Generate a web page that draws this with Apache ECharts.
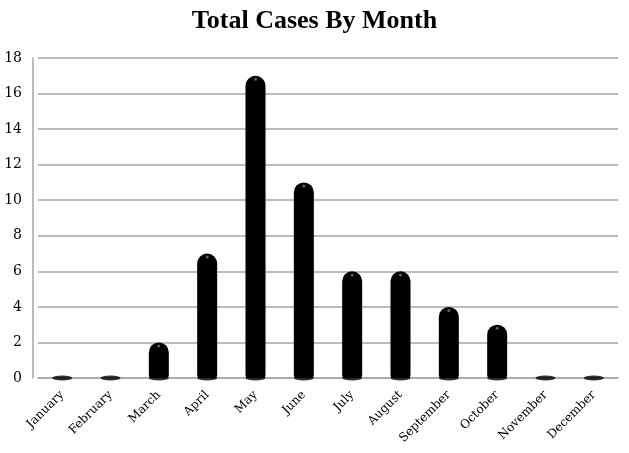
<!DOCTYPE html>
<html>
<head>
<meta charset="utf-8">
<script src="https://cdn.jsdelivr.net/npm/echarts@6/dist/echarts.min.js"></script>
<style>
  html, body { margin: 0; padding: 0; background: #fff; }
  #chart-container { width: 629px; height: 453px; }
</style>
</head>
<body>
<div id="chart-container"></div>
<script>
var dom = document.getElementById("chart-container");
var myChart = echarts.init(dom, null, { renderer: "canvas" });

// data
var months = ["January", "February", "March", "April", "May", "June",
  "July", "August", "September", "October", "November", "December"];
var cases = [0, 0, 2, 7, 17, 11, 6, 6, 4, 3, 0, 0];
var baseLine = [0, 0, 0, 0, 0, 0, 0, 0, 0, 0, 0, 0];

var serif = "'DejaVu Serif', 'Liberation Serif', serif";

var option = {
  backgroundColor: "#fff",
  title: {
    text: "Total Cases By Month",
    left: "center",
    top: 3,
    textStyle: { fontFamily: "'Liberation Serif', serif", fontWeight: "bold", fontSize: 26, color: "#000" }
  },
  grid: { left: 38, right: 11, top: 58, bottom: 75 },
  xAxis: {
    type: "category",
    data: months,
    offset: 5,
    axisLine: { show: true, lineStyle: { color: "#a6a6a6", width: 1.5 } },
    axisTick: { show: false },
    axisLabel: {
      rotate: 45,
      interval: 0,
      margin: 10,
      fontFamily: serif,
      fontSize: 12,
      color: "#000"
    }
  },
  yAxis: {
    type: "value",
    min: 0,
    max: 18,
    interval: 2,
    offset: 5,
    axisLine: { show: true, lineStyle: { color: "#a6a6a6", width: 1.5 } },
    axisTick: { show: false },
    axisLabel: { fontFamily: serif, fontSize: 14, color: "#000", margin: 11 },
    splitLine: { lineStyle: { color: "#a6a6a6", width: 1.5 } }
  },
  series: [
    {
      name: "Cases",
      type: "bar",
      data: cases,
      barWidth: 20,
      z: 3,
      itemStyle: { color: "#000", borderRadius: [10, 10, 3, 3] }
    },
    {
      // flat base ellipse under every column
      name: "base",
      type: "scatter",
      data: baseLine,
      symbol: "circle",
      symbolSize: [20, 5],
      z: 4,
      silent: true,
      itemStyle: { color: "#000" }
    },
    {
      // small highlight near each column top
      name: "shine",
      type: "scatter",
      data: cases.map(function (v) { return v > 0 ? v - 0.2 : null; }),
      symbol: "circle",
      symbolSize: 3,
      z: 5,
      silent: true,
      itemStyle: { color: "#777" }
    }
  ]
};

myChart.setOption(option);
window.addEventListener("resize", myChart.resize);
</script>
</body>
</html>
